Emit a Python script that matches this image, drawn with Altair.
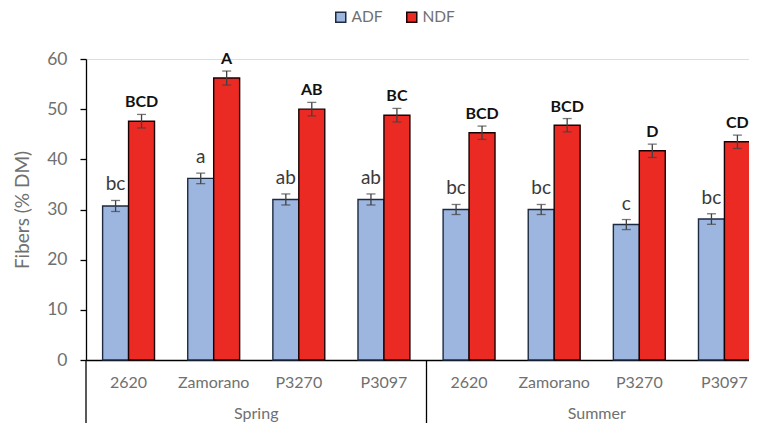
import altair as alt
import pandas as pd

seasons = ["Spring", "Summer"]
cultivars = ["2620", "Zamorano", "P3270", "P3097"]
types = ["ADF", "NDF"]

adf = [30.7, 36.2, 32.0, 32.0, 30.0, 30.0, 27.0, 28.1]
adf_err = [1.1, 1.05, 1.1, 1.1, 1.0, 1.0, 1.0, 1.05]
ndf = [47.6, 56.2, 50.0, 48.8, 45.3, 46.8, 41.7, 43.5]
ndf_err = [1.35, 1.4, 1.35, 1.35, 1.33, 1.33, 1.33, 1.33]
adf_letters = ["bc", "a", "ab", "ab", "bc", "bc", "c", "bc"]
ndf_letters = ["BCD", "A", "AB", "BC", "BCD", "BCD", "D", "CD"]

keys = [f"{s}|{c}" for s in seasons for c in cultivars]

rows = []
for i, k in enumerate(keys):
    s, c = k.split("|")
    rows.append(dict(key=k, season=s, cultivar=c, type="ADF", value=adf[i], err=adf_err[i], letter=adf_letters[i]))
    rows.append(dict(key=k, season=s, cultivar=c, type="NDF", value=ndf[i], err=ndf_err[i], letter=ndf_letters[i]))
df = pd.DataFrame(rows)
df["lo"] = df["value"] - df["err"]
df["hi"] = df["value"] + df["err"]

sep_df = pd.DataFrame({"key": [keys[0], keys[4]], "y0": [0, 0], "y1": [-15, -15]})
season_df = pd.DataFrame({"season": seasons, "key": [f"{s}|{cultivars[2]}" for s in seasons], "y": [-10.8, -10.8]})

FONT = "Lato"
GREY = "#707070"
BLUE = "#9db6df"
RED = "#ec2a24"

xscale = alt.Scale(domain=keys, paddingInner=0, paddingOuter=0, range=[0, 681])
yscale = alt.Scale(domain=[0, 60], nice=False)
xoff = alt.XOffset("type:N", scale=alt.Scale(domain=types, paddingInner=0, paddingOuter=0.64))

X = alt.X("key:N", scale=xscale, sort=keys,
          axis=alt.Axis(title=None, labelExpr="split(datum.label, '|')[1]", ticks=False,
                        domainColor="#000000", domainWidth=1.3, labelColor=GREY,
                        labelFontSize=16, labelFont=FONT, labelPadding=14, labelAngle=0))
Y = alt.Y("value:Q", scale=yscale,
          axis=alt.Axis(title="Fibers (% DM)", values=[0, 10, 20, 30, 40, 50, 60], grid=False,
                        tickSize=6, tickColor="#000000", tickWidth=1.3, domainColor="#000000",
                        domainWidth=1.3, labelColor=GREY, labelFontSize=17.5, labelFont=FONT,
                        labelPadding=13, titleColor=GREY, titleFontSize=19, titleFont=FONT,
                        titleFontWeight="normal", titleX=-64, titleY=150.5, titleAngle=-90,
                        titleAlign="center", titleBaseline="middle"))

color = alt.Color("type:N", scale=alt.Scale(domain=types, range=[BLUE, RED]),
                  legend=alt.Legend(title=None, orient="none", legendX=247, legendY=-50,
                                    direction="horizontal", symbolType="square", symbolSize=100,
                                    symbolStrokeColor="#222222", symbolStrokeWidth=1.5,
                                    labelFontSize=15.5, labelFont=FONT, labelColor=GREY,
                                    labelOffset=3, columnPadding=20))
stroke = alt.Stroke("type:N", scale=alt.Scale(domain=types, range=["#1d2a40", "#1a0000"]), legend=None)


def layers_for(t):
    d = alt.Chart(df).transform_filter(alt.datum.type == t)
    bars = d.mark_bar(strokeWidth=1.4).encode(x=X, xOffset=xoff, y=Y, color=color, stroke=stroke)
    err = d.mark_rule(color="#404040", strokeWidth=1.3).encode(
        x=alt.X("key:N", scale=xscale, sort=keys), xOffset=xoff,
        y=alt.Y("lo:Q", scale=yscale), y2="hi:Q")
    cap_lo = d.mark_tick(color="#404040", size=9, thickness=1.3, orient="horizontal").encode(
        x=alt.X("key:N", scale=xscale, sort=keys), xOffset=xoff, y=alt.Y("lo:Q", scale=yscale))
    cap_hi = d.mark_tick(color="#404040", size=9, thickness=1.3, orient="horizontal").encode(
        x=alt.X("key:N", scale=xscale, sort=keys), xOffset=xoff, y=alt.Y("hi:Q", scale=yscale))
    if t == "ADF":
        txt = d.mark_text(font=FONT, fontSize=19, color="#3a3a3a", dy=-10, baseline="alphabetic").encode(
            x=alt.X("key:N", scale=xscale, sort=keys), xOffset=xoff,
            y=alt.Y("hi:Q", scale=yscale), text="letter:N")
    else:
        txt = d.mark_text(font=FONT, fontSize=16, fontWeight="bold", color="#111111", dy=-7,
                          baseline="alphabetic").encode(
            x=alt.X("key:N", scale=xscale, sort=keys), xOffset=xoff,
            y=alt.Y("hi:Q", scale=yscale), text="letter:N")
    return [bars, err, cap_lo, cap_hi, txt]


seps = alt.Chart(sep_df).mark_rule(color="#000000", strokeWidth=1.3).encode(
    x=alt.X("key:N", scale=xscale, sort=keys, bandPosition=0),
    y=alt.Y("y0:Q", scale=yscale), y2="y1:Q")

season_txt = alt.Chart(season_df).mark_text(font=FONT, fontSize=16, color=GREY, baseline="middle").encode(
    x=alt.X("key:N", scale=xscale, sort=keys, bandPosition=0),
    y=alt.Y("y:Q", scale=yscale), text="season:N")

chart = alt.layer(*layers_for("ADF"), *layers_for("NDF"), seps, season_txt).properties(
    width=663, height=301,
    autosize=alt.AutoSizeParams(type="none"),
    padding={"left": 78, "top": 51, "right": 0, "bottom": 63},
).configure_view(stroke=None).configure(font=FONT)

chart.save("out.html", embed_options={"renderer": "svg", "actions": False})
